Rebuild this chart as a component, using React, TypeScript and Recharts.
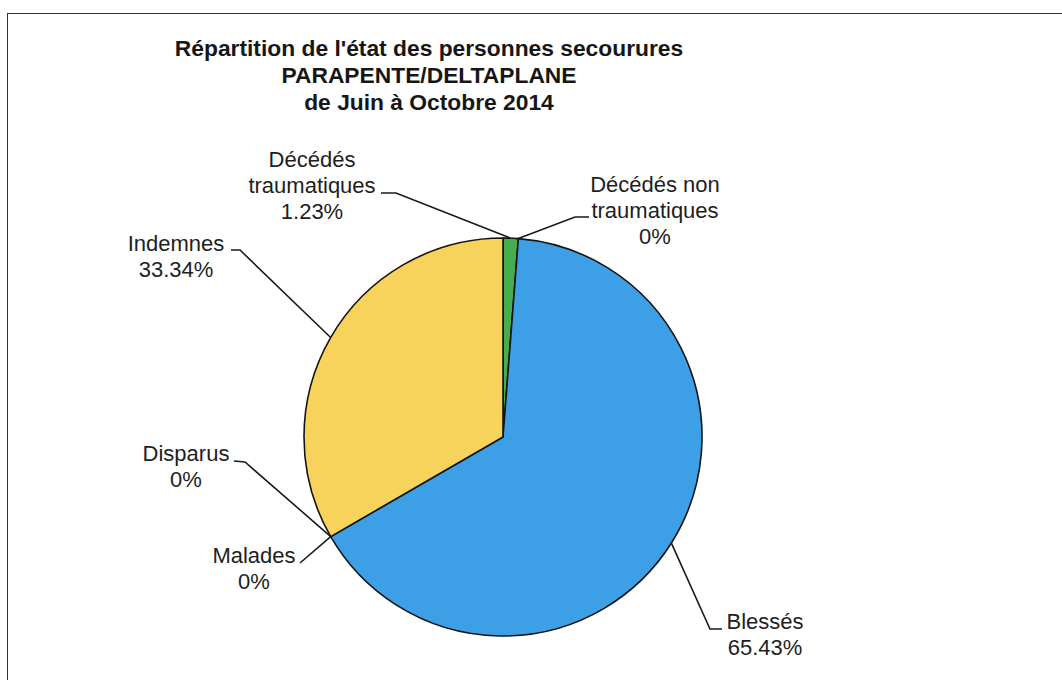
import { PieChart, Pie, Cell } from 'recharts'

const categories = [
  'Décédés traumatiques',
  'Décédés non traumatiques',
  'Blessés',
  'Malades',
  'Disparus',
  'Indemnes',
]
const shares = [1.23, 0, 65.43, 0, 0, 33.34]
const sliceColors = ['#48ad4e', '#48ad4e', '#3d9fe6', '#3d9fe6', '#f7d35b', '#f7d35b']
const titleLines = [
  "Répartition de l'état des personnes secourures",
  'PARAPENTE/DELTAPLANE',
  'de Juin à Octobre 2014',
]

const data = categories.map((name, i) => ({ name, value: shares[i] }))

const CX = 503
const CY = 437
const RAD = Math.PI / 180
const LINE_H = 26

// where each label sits, relative to the pie centre (text centre / first baseline, tick start, elbow)
const labelLayout = [
  { tx: -191, ty: -270, a: [-122, -244], b: [-107, -244] },
  { tx: 152, ty: -245, a: [86, -220], b: [72, -220] },
  { tx: 262, ty: 192, a: [219, 192], b: [207, 192] },
  { tx: -249, ty: 126, a: [-203, 126], b: [-203, 126] },
  { tx: -317, ty: 24, a: [-269, 24], b: [-258, 25] },
  { tx: -327, ty: -186, a: [-272, -187], b: [-263, -187] },
]

const wrap = (s: string, max = 12) => {
  const out: string[] = []
  let cur = ''
  s.split(' ').forEach((w) => {
    if (cur && (cur + ' ' + w).length > max) {
      out.push(cur)
      cur = w
    } else cur = cur ? cur + ' ' + w : w
  })
  if (cur) out.push(cur)
  return out
}

const renderLabel = (props: any) => {
  const { cx, cy, midAngle, outerRadius, index, name, value } = props
  const lay = labelLayout[index]
  if (!lay) return null
  const ex = cx + outerRadius * Math.cos(-midAngle * RAD)
  const ey = cy + outerRadius * Math.sin(-midAngle * RAD)
  const lines = [...wrap(name), `${value}%`]
  return (
    <g key={`lbl-${index}`}>
      <polyline
        points={`${cx + lay.a[0]},${cy + lay.a[1]} ${cx + lay.b[0]},${cy + lay.b[1]} ${ex},${ey}`}
        fill="none"
        stroke="#1a1a1a"
        strokeWidth={1.6}
      />
      <text
        x={cx + lay.tx}
        y={cy + lay.ty}
        textAnchor="middle"
        fontSize={22}
        fill="#1e1e1e"
        fontFamily="'Liberation Sans', Arial, sans-serif"
      >
        {lines.map((l, i) => (
          <tspan key={i} x={cx + lay.tx} y={cy + lay.ty + i * LINE_H}>
            {l}
          </tspan>
        ))}
      </text>
    </g>
  )
}

export default function App() {
  return (
    <div
      style={{
        position: 'fixed',
        left: 0,
        top: 0,
        width: 1062,
        height: 680,
        overflow: 'hidden',
        background: '#fff',
        fontFamily: "'Liberation Sans', Arial, sans-serif",
      }}
    >
      {/* open frame: only the left and top edges show in the scan */}
      <div
        style={{
          position: 'absolute',
          left: 7,
          top: 13,
          width: 1100,
          height: 720,
          borderLeft: '1.5px solid #333',
          borderTop: '1.5px solid #333',
        }}
      />
      <div
        style={{
          position: 'absolute',
          left: 129,
          top: 35,
          width: 600,
          textAlign: 'center',
          fontWeight: 'bold',
          fontSize: 22.8,
          lineHeight: '27px',
          color: '#161616',
        }}
      >
        {titleLines.map((t) => (
          <div key={t}>{t}</div>
        ))}
      </div>
      <div style={{ position: 'absolute', left: 0, top: 0 }}>
        <PieChart width={1062} height={680} margin={{ top: 0, right: 0, bottom: 0, left: 0 }}>
          <Pie
            data={data}
            dataKey="value"
            nameKey="name"
            cx={CX}
            cy={CY}
            outerRadius={199}
            startAngle={90}
            endAngle={-270}
            stroke="#151515"
            strokeWidth={1.6}
            label={renderLabel}
            labelLine={false}
            isAnimationActive={false}
          >
            {data.map((d, i) => (
              <Cell key={`cell-${i}`} fill={sliceColors[i]} />
            ))}
          </Pie>
        </PieChart>
      </div>
    </div>
  )
}
